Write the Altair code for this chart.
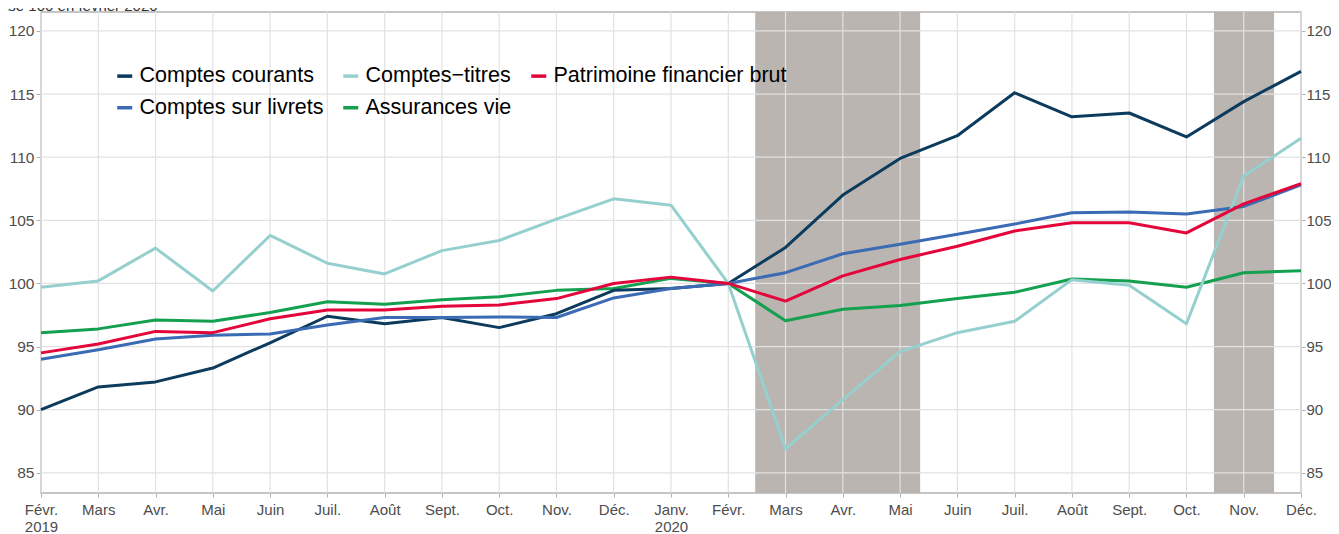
import json
import altair as alt
import pandas as pd

# ---- data ----
month_labels = ["Févr.", "Mars", "Avr.", "Mai", "Juin", "Juil.", "Août", "Sept.", "Oct.", "Nov.", "Déc.",
                "Janv.", "Févr.", "Mars", "Avr.", "Mai", "Juin", "Juil.", "Août", "Sept.", "Oct.", "Nov.", "Déc."]
year_labels = ["2019", "", "", "", "", "", "", "", "", "", "", "2020", "", "", "", "", "", "", "", "", "", "", ""]
month_index = list(range(len(month_labels)))

comptes_courants = [90.0, 91.8, 92.2, 93.3, 95.3, 97.4, 96.8, 97.3, 96.5, 97.6, 99.45, 99.6, 100.0,
                    102.85, 107.0, 109.9, 111.7, 115.1, 113.2, 113.5, 111.6, 114.4, 116.8]
comptes_titres = [99.7, 100.2, 102.8, 99.4, 103.8, 101.6, 100.75, 102.6, 103.4, 105.1, 106.7, 106.2, 100.0,
                  86.9, 90.8, 94.6, 96.1, 97.0, 100.3, 99.85, 96.8, 108.5, 111.5]
patrimoine = [94.5, 95.2, 96.2, 96.1, 97.2, 97.9, 97.9, 98.2, 98.3, 98.8, 100.0, 100.5, 100.0,
              98.6, 100.6, 101.9, 102.95, 104.15, 104.8, 104.8, 104.0, 106.3, 107.9]
livrets = [94.0, 94.75, 95.6, 95.9, 96.0, 96.7, 97.3, 97.3, 97.35, 97.3, 98.85, 99.6, 100.0,
           100.85, 102.35, 103.1, 103.9, 104.7, 105.6, 105.65, 105.5, 106.1, 107.8]
assurances = [96.1, 96.4, 97.1, 97.0, 97.7, 98.55, 98.35, 98.7, 98.95, 99.45, 99.6, 100.4, 100.0,
              97.05, 97.95, 98.25, 98.8, 99.3, 100.35, 100.2, 99.7, 100.85, 101.0]

series_names = ["Comptes courants", "Comptes\u2212titres", "Patrimoine financier brut",
                "Comptes sur livrets", "Assurances vie"]
series_colors = ["#0c3b5d", "#95d0cf", "#e4053b", "#3b6bb5", "#13a04f"]

# confinement periods (in month-index units)
shade_start = [12.47, 20.48]
shade_end = [15.35, 21.53]

y_ticks = [85, 90, 95, 100, 105, 110, 115, 120]
subtitle = "Base 100 en février 2020"

# ---- layout ----
W, H = 1260, 481
Y_DOMAIN = [83.4, 121.5]
FONT = "Liberation Sans, Arial, Helvetica, sans-serif"
GRID = "#e2e2e2"
TXT = "#4d4d4d"
TICK = "#b3b3b3"

draw_order = [
    ("Assurances vie", assurances),
    ("Comptes courants", comptes_courants),
    ("Comptes sur livrets", livrets),
    ("Comptes\u2212titres", comptes_titres),
    ("Patrimoine financier brut", patrimoine),
]
rows = []
for name, vals in draw_order:
    for i, v in zip(month_index, vals):
        rows.append({"m": i, "v": v, "serie": name})
df = pd.DataFrame(rows)

shade_df = pd.DataFrame({"x0": shade_start, "x1": shade_end})
xgrid_df = pd.DataFrame({"m": month_index})
ygrid_df = pd.DataFrame({"v": y_ticks})

xscale = alt.Scale(domain=[0, len(month_labels) - 1], nice=False, zero=False)
yscale = alt.Scale(domain=Y_DOMAIN, nice=False, zero=False)

months_js = json.dumps(month_labels, ensure_ascii=False)
years_js = json.dumps(year_labels)
label_expr = (f"{years_js}[datum.value] ? [{months_js}[datum.value], {years_js}[datum.value]]"
              f" : {months_js}[datum.value]")

x_axis = alt.Axis(values=month_index, labelExpr=label_expr, grid=False, domain=False,
                  tickColor=TICK, tickSize=4, labelPadding=5,
                  labelFontSize=15, labelColor=TXT, labelFont=FONT,
                  labelLineHeight=17, labelOverlap=False, labelBound=False,
                  labelFlush=False, title=None)

shade = alt.Chart(shade_df).mark_rect(color="#bab5b1").encode(
    x=alt.X("x0:Q", scale=xscale, axis=x_axis, title=None),
    x2="x1:Q",
    y=alt.value(0),
    y2=alt.value(H),
)

xgrid = alt.Chart(xgrid_df).mark_rule(color=GRID, strokeWidth=1.2).encode(
    x=alt.X("m:Q", scale=xscale, axis=x_axis, title=None),
    y=alt.value(0),
    y2=alt.value(H),
)

ygrid = alt.Chart(ygrid_df).mark_rule(color=GRID, strokeWidth=1.2).encode(
    y=alt.Y("v:Q", scale=yscale, title=None,
            axis=alt.Axis(orient="right", values=y_ticks, grid=False, domain=False,
                          tickColor=TICK, tickSize=4, labelPadding=1,
                          labelFontSize=15, labelColor=TXT, labelFont=FONT)),
    x=alt.value(0),
    x2=alt.value(W),
)

lines = alt.Chart(df).mark_line(strokeWidth=3, strokeJoin="round").encode(
    x=alt.X("m:Q", scale=xscale, axis=x_axis, title=None),
    y=alt.Y("v:Q", scale=yscale, title=None,
            axis=alt.Axis(orient="left", values=y_ticks, grid=False, domain=False,
                          tickColor=TICK, tickSize=5, labelPadding=2,
                          labelFontSize=15.5, labelColor=TXT, labelFont=FONT)),
    color=alt.Color("serie:N",
                    scale=alt.Scale(domain=series_names, range=series_colors),
                    legend=alt.Legend(title=None, orient="none", legendX=73, legendY=53,
                                      direction="horizontal", columns=3,
                                      columnPadding=12, rowPadding=9,
                                      symbolType="stroke", symbolSize=225, symbolStrokeWidth=3.5,
                                      labelFontSize=21.5, labelColor="#000000", labelFont=FONT,
                                      labelOffset=4, labelLimit=400)),
    detail="serie:N",
)

title_txt = alt.Chart(pd.DataFrame({"t": [subtitle]})).mark_text(
    align="left", baseline="alphabetic", fontSize=15, color="#333333", font=FONT
).encode(text="t:N", x=alt.value(-51), y=alt.value(-1))

chart = alt.layer(shade, xgrid, ygrid, lines, title_txt).resolve_scale(
    y="independent"
).properties(
    width=W, height=H,
    padding={"left": 33, "top": 4, "right": 30, "bottom": 41},
    autosize=alt.AutoSizeParams(type="none"),
).configure_view(stroke="#b3b3b3", strokeWidth=1.5)

chart.save("out.html", embed_options={"renderer": "svg", "actions": False})
